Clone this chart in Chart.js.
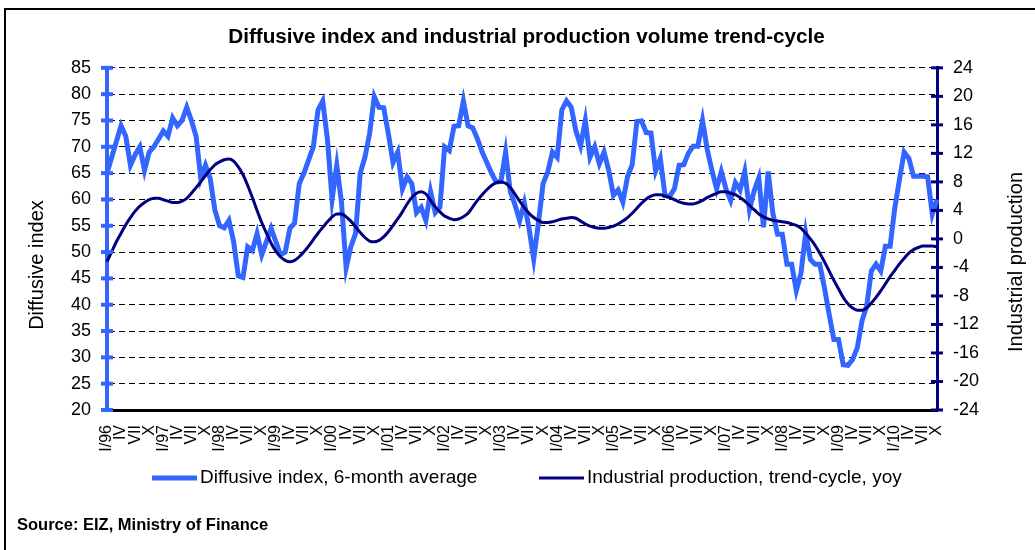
<!DOCTYPE html>
<html lang="en">
<head>
<meta charset="utf-8">
<title>Diffusive index and industrial production</title>
<script src="https://cdn.jsdelivr.net/npm/chart.js@4.4.0/dist/chart.umd.min.js"></script>
<style>
  body { margin: 0; background: #fff; }
  #wrap { width: 1035px; height: 550px; }
</style>
</head>
<body>
<div id="wrap"><canvas id="myChart" width="1035" height="550"></canvas></div>
<script>
// months in roman numerals, first month of each year carries the year
var months = ['I', 'II', 'III', 'IV', 'V', 'VI', 'VII', 'VIII', 'IX', 'X', 'XI', 'XII'];
var years = ['96', '97', '98', '99', '00', '01', '02', '03', '04', '05', '06', '07', '08', '09', '10'];
var lastMonth = 10; // data ends in X/10

// diffusive index, 6-month average (left axis)
var diffusive = [
  65, 68, 71, 74, 72, 66.5, 68.5, 70, 65.5, 69, 70, 71.5,
  73, 72, 75.5, 74, 75, 77.5, 75, 72, 64, 66.5, 64, 58,
  55, 54.6, 56, 52, 45.5, 45.2, 51, 50.3, 53.5, 49.5, 52, 54.5,
  52, 49.5, 50, 54.5, 55.5, 63, 65, 67.5, 70, 77, 78.7, 71.5,
  60, 66.5, 59.5, 47, 51, 53.5, 65, 68, 72.5, 79.5, 77.5, 77.4,
  72.5, 67, 69, 62, 64.3, 63, 57.5, 58.5, 56, 61.5, 57.5, 58.5,
  70, 69.3, 73.9, 74, 78.7, 74, 73.6, 71.5, 69, 67, 65, 63.3,
  63.4, 69, 61.5, 59, 56, 59.3, 54.5, 48.7, 55.5, 63, 65.3, 69,
  68, 77, 78.7, 77.5, 73, 70.2, 75, 68, 70, 66.8, 69, 65.5,
  60.8, 61.8, 59.5, 64.3, 66.6, 74.8, 74.9, 72.7, 72.6, 65.4, 67.8, 60.7,
  60.6, 62, 66.5, 66.6, 68.8, 70.1, 70.1, 75, 69.5, 65.5, 62, 65.3,
  62, 59.8, 63.2, 61.8, 65.3, 58.1, 61.6, 64.1, 54.7, 65.3, 57.3, 53.4,
  53.4, 47.7, 47.7, 42.7, 46, 53.6, 48.6, 47.7, 47.7, 43.2, 38.2, 33.4,
  33.4, 28.6, 28.5, 29.6, 31.8, 36.9, 39.7, 46.4, 47.7, 46.4, 51.1, 51.1,
  58.4, 63.8, 69, 67.8, 64.4, 64.4, 64.4, 64.3, 57.2, 60
];

// industrial production, trend-cycle, yoy (right axis)
var production = [
  -3.2, -1.8, -0.4, 0.8, 2.0, 3.0, 3.9, 4.6, 5.1, 5.5, 5.7, 5.7,
  5.5, 5.3, 5.1, 5.1, 5.3, 5.7, 6.4, 7.2, 8.0, 8.9, 9.7, 10.4,
  10.8, 11.1, 11.2, 10.9, 10.1, 9.0, 7.5, 5.8, 4.0, 2.3, 0.8, -0.6,
  -1.7, -2.5, -3.0, -3.2, -3.0, -2.5, -1.8, -1.0, -0.1, 0.8, 1.6, 2.4,
  3.1, 3.5, 3.5, 3.1, 2.5, 1.7, 0.9, 0.2, -0.3, -0.4, -0.2, 0.3,
  1.0, 1.9, 2.8, 3.8, 4.9, 5.8, 6.4, 6.6, 6.3, 5.4, 4.5, 3.8,
  3.2, 2.9, 2.7, 2.8, 3.1, 3.6, 4.5, 5.4, 6.2, 6.9, 7.5, 7.9,
  8.0, 7.8, 7.2, 6.3, 5.3, 4.4, 3.6, 3.0, 2.6, 2.3, 2.3, 2.4,
  2.6, 2.8, 2.9, 3.0, 2.9, 2.5, 2.1, 1.8, 1.6, 1.5, 1.5, 1.6,
  1.8, 2.1, 2.5, 3.0, 3.6, 4.3, 5.0, 5.6, 6.0, 6.2, 6.2, 6.0,
  5.8, 5.5, 5.2, 5.0, 4.9, 4.9, 5.1, 5.4, 5.8, 6.1, 6.4, 6.6,
  6.6, 6.4, 6.2, 5.8, 5.3, 4.7, 4.1, 3.5, 3.1, 2.8, 2.6, 2.5,
  2.4, 2.3, 2.1, 1.9, 1.5, 0.8, 0, -0.9, -2.0, -3.2, -4.5, -5.8,
  -7.0, -8.2, -9.1, -9.7, -10.0, -10.0, -9.7, -9.0, -8.2, -7.3, -6.3, -5.3,
  -4.4, -3.5, -2.7, -2.0, -1.5, -1.2, -1.0, -1.0, -1.0, -1.1
];

var leftMin = 20, leftMax = 85, leftStep = 5;
var rightMin = -24, rightMax = 24, rightStep = 4;

var labels = [];
years.forEach(function (y) {
  months.forEach(function (m, k) {
    labels.push(k === 0 ? m + '/' + y : m);
  });
});
labels = labels.slice(0, (years.length - 1) * 12 + lastMonth);

var font = "'Liberation Sans', Arial, sans-serif";
var blue = '#3366FF';
var navy = '#000080';

// cross ticks on both value axes, axis titles, legend, source note and frame
var extras = {
  id: 'extras',
  beforeDraw: function (chart) {
    var c = chart.ctx;
    c.save();
    c.strokeStyle = '#000';
    c.lineWidth = 2;
    c.beginPath();
    c.moveTo(5, 550);
    c.lineTo(5, 9);
    c.lineTo(1035, 9);
    c.stroke();
    c.restore();
  },
  afterDraw: function (chart) {
    var c = chart.ctx;
    [['yL', blue, 4], ['yR', navy, 3]].forEach(function (a) {
      var s = chart.scales[a[0]];
      var x = a[0] === 'yL' ? s.right : s.left;
      c.save();
      c.strokeStyle = a[1];
      c.lineWidth = a[2];
      s.ticks.forEach(function (t) {
        var y = s.getPixelForValue(t.value);
        c.beginPath();
        c.moveTo(x - 6, y);
        c.lineTo(x + 6, y);
        c.stroke();
      });
      c.restore();
    });

    // axis titles
    c.save();
    c.fillStyle = '#000';
    c.font = '20px ' + font;
    c.textAlign = 'center';
    c.textBaseline = 'middle';
    c.translate(37, 265);
    c.rotate(-Math.PI / 2);
    c.fillText('Diffusive index', 0, 0);
    c.restore();
    c.save();
    c.fillStyle = '#000';
    c.font = '20px ' + font;
    c.textAlign = 'center';
    c.textBaseline = 'middle';
    c.translate(1016, 262);
    c.rotate(-Math.PI / 2);
    c.fillText('Industrial production', 0, 0);
    c.restore();

    // legend
    var ds = chart.data.datasets;
    var legendX = [152, 539];
    c.save();
    c.font = '19px ' + font;
    c.textAlign = 'left';
    c.textBaseline = 'middle';
    ds.forEach(function (d, i) {
      c.strokeStyle = d.borderColor;
      c.lineWidth = d.borderWidth;
      c.beginPath();
      c.moveTo(legendX[i], 478);
      c.lineTo(legendX[i] + 45, 478);
      c.stroke();
      c.fillStyle = '#000';
      c.fillText(d.label, legendX[i] + 48, 478);
    });
    c.restore();

    c.save();
    c.fillStyle = '#000';
    c.font = 'bold 16.5px ' + font;
    c.textAlign = 'left';
    c.textBaseline = 'middle';
    c.fillText('Source: EIZ, Ministry of Finance', 17, 525);
    c.restore();
  }
};

var ctx = document.getElementById('myChart').getContext('2d');
var chart = new Chart(ctx, {
  type: 'line',
  data: {
    labels: labels,
    datasets: [
      {
        label: 'Diffusive index, 6-month average',
        data: diffusive,
        yAxisID: 'yL',
        borderColor: blue,
        borderWidth: 5,
        pointRadius: 0,
        tension: 0,
        order: 1
      },
      {
        label: 'Industrial production, trend-cycle, yoy',
        data: production,
        yAxisID: 'yR',
        borderColor: navy,
        borderWidth: 3,
        pointRadius: 0,
        cubicInterpolationMode: 'monotone',
        order: 0
      }
    ]
  },
  options: {
    responsive: false,
    animation: false,
    layout: { padding: { left: 18, right: 0, top: 0, bottom: 94 } },
    plugins: {
      title: {
        display: true,
        text: 'Diffusive index and industrial production volume trend-cycle',
        color: '#000',
        font: { family: font, size: 20.7, weight: 'bold' },
        padding: { top: 25, bottom: 18 }
      },
      legend: { display: false },
      tooltip: { enabled: false }
    },
    scales: {
      x: {
        grid: { display: false, drawTicks: false },
        border: { color: '#000', width: 3 },
        ticks: {
          autoSkip: false,
          maxRotation: 90,
          minRotation: 90,
          color: '#000',
          padding: 15,
          font: { family: font, size: 16 },
          callback: function (v, i) { return i % 3 === 0 ? labels[i] : ''; }
        },
        afterFit: function (s) { s.height = 46; }
      },
      yL: {
        position: 'left',
        min: leftMin,
        max: leftMax,
        ticks: { stepSize: leftStep, color: '#000', padding: 16, font: { family: font, size: 18 } },
        grid: { color: '#000', lineWidth: 1, drawTicks: false },
        border: { color: blue, width: 4, dash: [6, 4] },
        afterFit: function (s) { s.width = 89; }
      },
      yR: {
        position: 'right',
        min: rightMin,
        max: rightMax,
        ticks: { stepSize: rightStep, color: '#000', padding: 16, font: { family: font, size: 18 } },
        grid: { drawOnChartArea: false, drawTicks: false },
        border: { color: navy, width: 3 },
        afterFit: function (s) { s.width = 98; }
      }
    }
  },
  plugins: [extras]
});
</script>
</body>
</html>
